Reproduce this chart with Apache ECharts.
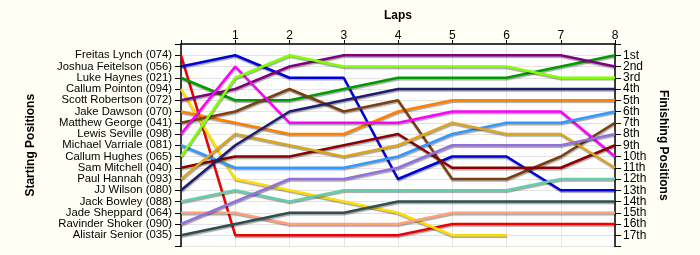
<!DOCTYPE html>
<html>
<head>
<meta charset="utf-8">
<script src="https://cdn.jsdelivr.net/npm/echarts@6/dist/echarts.min.js"></script>
<style>html,body{margin:0;padding:0;background:#FFFFF5;}#c{width:700px;height:255px;}</style>
</head>
<body>
<div id="c"></div>
<script>
const laps = [0, 1, 2, 3, 4, 5, 6, 7, 8];
const startLabels = ["Freitas Lynch (074)", "Joshua Feitelson (056)", "Luke Haynes (021)", "Callum Pointon (094)", "Scott Robertson (072)", "Jake Dawson (070)", "Matthew George (041)", "Lewis Seville (098)", "Michael Varriale (081)", "Callum Hughes (065)", "Sam Mitchell (040)", "Paul Hannah (093)", "JJ Wilson (080)", "Jack Bowley (088)", "Jade Sheppard (064)", "Ravinder Shoker (090)", "Alistair Senior (035)"];
const finishLabels = ["1st", "2nd", "3rd", "4th", "5th", "6th", "7th", "8th", "9th", "10th", "11th", "12th", "13th", "14th", "15th", "16th", "17th"];

const freitasLynch    = [1, 17, 17, 17, 17, 16, 16, 16, 16];
const joshuaFeitelson = [2, 1, 3, 3, 12, 10, 10, 13, 13];
const lukeHaynes      = [3, 5, 5, 4, 3, 3, 3, 2, 1];
const callumPointon   = [4, 12, 13, 14, 15, 17, 17];
const scottRobertson  = [5, 4, 2, 1, 1, 1, 1, 1, 2];
const jakeDawson      = [6, 7, 8, 8, 6, 5, 5, 5, 5];
const matthewGeorge   = [7, 6, 4, 6, 5, 12, 12, 10, 7];
const lewisSeville    = [8, 2, 7, 7, 7, 6, 6, 6, 10];
const michaelVarriale = [9, 11, 11, 11, 10, 8, 7, 7, 6];
const callumHughes    = [10, 3, 1, 2, 2, 2, 2, 3, 3];
const samMitchell     = [11, 10, 10, 9, 8, 11, 11, 11, 9];
const paulHannah      = [12, 8, 9, 10, 9, 7, 8, 8, 11];
const jjWilson        = [13, 9, 6, 5, 4, 4, 4, 4, 4];
const jackBowley      = [14, 13, 14, 13, 13, 13, 13, 12, 12];
const jadeSheppard    = [15, 15, 16, 16, 16, 15, 15, 15, 15];
const ravinderShoker  = [16, 14, 12, 12, 11, 9, 9, 9, 8];
const alistairSenior  = [17, 16, 15, 15, 14, 14, 14, 14, 14];

const seriesValues = [freitasLynch, joshuaFeitelson, lukeHaynes, callumPointon, scottRobertson, jakeDawson, matthewGeorge, lewisSeville, michaelVarriale, callumHughes, samMitchell, paulHannah, jjWilson, jackBowley, jadeSheppard, ravinderShoker, alistairSenior];
const colors = ["#EE0000", "#0000DD", "#009B00", "#FFDD00", "#800080", "#FF8000", "#7B3F10", "#FF00FF", "#3399FF", "#80FF00", "#8B0000", "#DAA520", "#1E1E70", "#66CDAA", "#FFA07A", "#9370DB", "#2F4F4F"];

const font = "Liberation Sans, Arial, sans-serif";
const chart = echarts.init(document.getElementById('c'), null, {renderer: 'canvas'});
const series = seriesValues.map((vals, i) => ({
  type: 'line',
  name: startLabels[i],
  symbol: 'none',
  animation: false,
  data: vals.map((v, j) => [laps[j], v]),
  lineStyle: {width: 2.5, color: colors[i], shadowColor: 'rgba(0,0,0,0.35)', shadowOffsetY: 1.5, shadowOffsetX: 0.5, shadowBlur: 1},
  itemStyle: {color: colors[i]}
}));

const yBase = {
  type: 'value', inverse: true, min: 0, max: 18, interval: 1,
  axisLine: {show: true, lineStyle: {color: '#000', width: 1.5}},
  axisTick: {show: true, length: 6, lineStyle: {color: '#000'}},
  nameLocation: 'middle',
  nameTextStyle: {fontFamily: font, fontSize: 12, fontWeight: 'bold', color: '#000'}
};

chart.setOption({
  backgroundColor: '#FFFFF5',
  animation: false,
  grid: {left: 181, right: 85, top: 44, bottom: 8.5, show: true, backgroundColor: '#FFFFFF', borderWidth: 0},
  xAxis: {
    type: 'value', position: 'top', min: 0, max: 8, interval: 1,
    name: 'Laps', nameLocation: 'middle', nameGap: 22,
    nameTextStyle: {fontFamily: font, fontSize: 12, fontWeight: 'bold', color: '#000'},
    axisLine: {show: true, lineStyle: {color: '#000', width: 1.5}},
    axisTick: {show: true, length: 4, lineStyle: {color: '#000'}},
    axisLabel: {fontFamily: font, fontSize: 12, color: '#000', margin: 2, formatter: v => v === 0 ? '' : String(v)},
    splitLine: {show: true, lineStyle: {color: '#E4E4E4', width: 1}}
  },
  yAxis: [
    Object.assign({}, yBase, {
      position: 'left', name: 'Starting Positions', nameRotate: 90, nameGap: 144,
      axisLabel: {fontFamily: font, fontSize: 11.3, color: '#000', margin: 9,
        formatter: v => (v >= 1 && v <= 17) ? startLabels[v - 1] : ''},
      splitLine: {show: true, lineStyle: {color: '#E4E4E4', width: 1}}
    }),
    Object.assign({}, yBase, {
      position: 'right', name: 'Finishing Positions', nameRotate: -90, nameGap: 42,
      axisLabel: {fontFamily: font, fontSize: 12, color: '#000', margin: 8,
        formatter: v => (v >= 1 && v <= 17) ? finishLabels[v - 1] : ''},
      splitLine: {show: false}
    })
  ],
  series: series
});
</script>
</body>
</html>
